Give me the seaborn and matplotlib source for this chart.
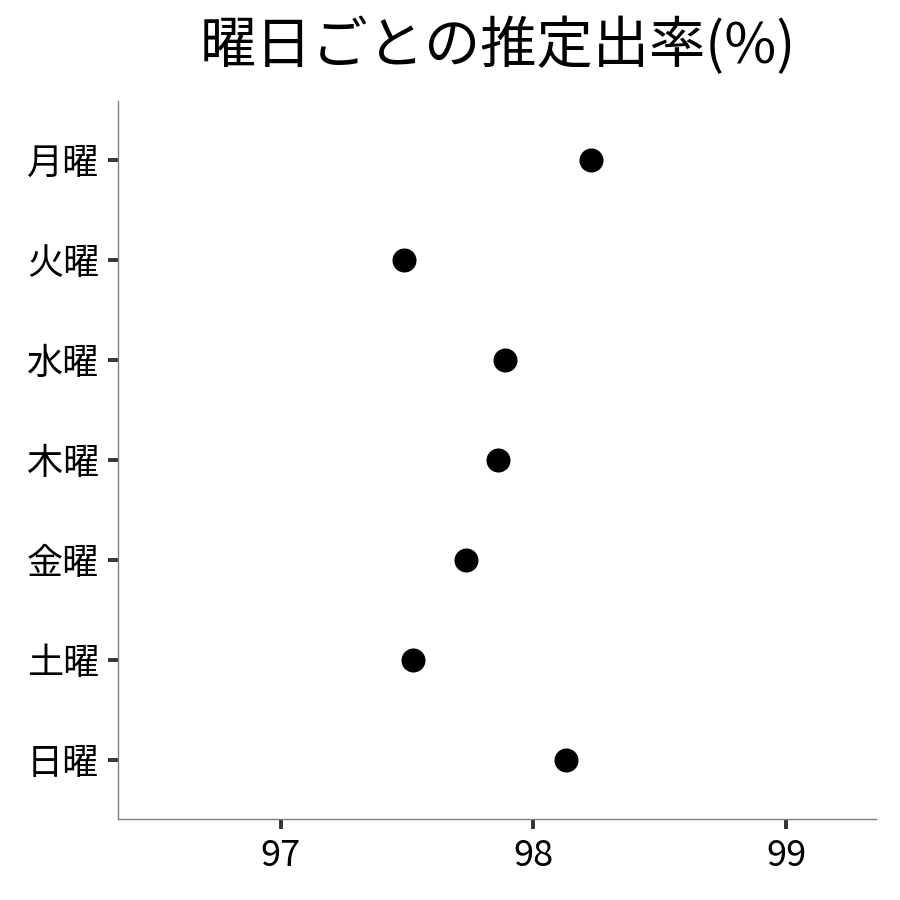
import matplotlib
matplotlib.use("Agg")
import matplotlib.pyplot as plt
import seaborn as sns
import pandas as pd

days = ["月曜", "火曜", "水曜", "木曜", "金曜", "土曜", "日曜"]
rates = [98.226, 97.487, 97.889, 97.861, 97.734, 97.523, 98.127]
xticks = [97, 98, 99]

sns.set_theme(style="white")
plt.rcParams['font.family'] = ['Noto Sans CJK JP', 'DejaVu Sans']

df = pd.DataFrame({"day": days, "rate": rates})

fig = plt.figure(figsize=(9, 9), dpi=100)
ax = fig.add_axes([0.1311, 0.09, 0.8422, 0.7978])
sns.stripplot(data=df, x="rate", y="day", order=days, jitter=False,
              color="black", size=17.3, ax=ax, linewidth=0)

ax.set_xlim(96.355, 99.356)
ax.set_ylim(6.59, -0.59)
ax.set_xticks(xticks)
ax.set_xticklabels([str(t) for t in xticks])
ax.set_xlabel("")
ax.set_ylabel("")
for s in ["top", "right"]:
    ax.spines[s].set_visible(False)
for s in ["left", "bottom"]:
    ax.spines[s].set_color("#7f7f7f")
    ax.spines[s].set_linewidth(1.0)
ax.tick_params(axis="both", which="major", length=7.5, width=2.8, color="#333333",
               labelsize=26, labelcolor="black", pad=6, left=True, bottom=True)
fig.text(0.553, 0.948, "曜日ごとの推定出率(%)", fontsize=40.5, color="black",
         ha="center", va="center")
fig.savefig("out.png", dpi=100)
